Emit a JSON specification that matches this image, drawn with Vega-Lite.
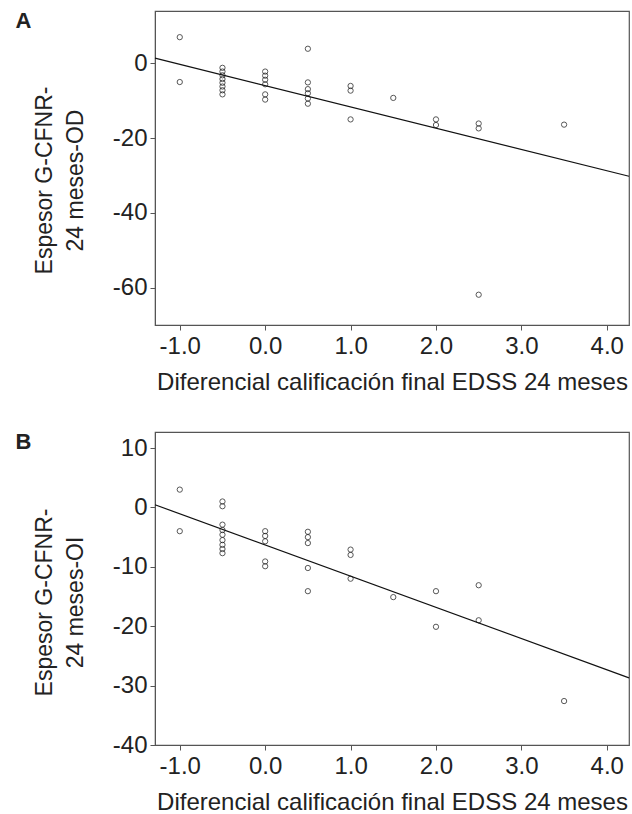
{
  "$schema": "https://vega.github.io/schema/vega-lite/v6.json",
  "padding": {"left": 14, "top": 9, "right": 2, "bottom": 2},
  "background": "white",
  "spacing": 35,
  "config": {
    "font": "Liberation Sans",
    "view": {"stroke": "#555555", "strokeWidth": 1.2},
    "axis": {
      "grid": false,
      "domainColor": "#555555",
      "tickColor": "#555555",
      "tickSize": 5,
      "labelFont": "Liberation Sans",
      "labelFontSize": 24,
      "labelColor": "#222222",
      "titleFont": "Liberation Sans",
      "titleFontSize": 23,
      "titleFontWeight": "normal",
      "titleColor": "#222222"
    },
    "axisX": {"labelPadding": 4, "titlePadding": 12, "titleFontSize": 24, "labelFlush": false, "labelOverlap": false},
    "axisY": {"labelPadding": 3, "titlePadding": 25, "titleLineHeight": 31}
  },
  "vconcat": [
    {
      "width": 474,
      "height": 314,
      "title": {"text": "A", "orient": "left", "anchor": "end", "angle": 0, "align": "right", "baseline": "top", "fontSize": 22, "fontWeight": "bold", "offset": -14, "color": "#222222"},
      "layer": [
        {
          "data": {"values": [
            {"x": -1, "y": 7.0}, {"x": -1, "y": -5.0},
            {"x": -0.5, "y": -1.2}, {"x": -0.5, "y": -2.2}, {"x": -0.5, "y": -3.2}, {"x": -0.5, "y": -4.2}, {"x": -0.5, "y": -5.2}, {"x": -0.5, "y": -6.2}, {"x": -0.5, "y": -7.2}, {"x": -0.5, "y": -8.3},
            {"x": 0, "y": -2.2}, {"x": 0, "y": -3.3}, {"x": 0, "y": -4.4}, {"x": 0, "y": -5.6}, {"x": 0, "y": -8.3}, {"x": 0, "y": -9.7},
            {"x": 0.5, "y": 3.9}, {"x": 0.5, "y": -5.1}, {"x": 0.5, "y": -6.9}, {"x": 0.5, "y": -8.0}, {"x": 0.5, "y": -9.4}, {"x": 0.5, "y": -10.8},
            {"x": 1, "y": -6.05}, {"x": 1, "y": -7.3}, {"x": 1, "y": -15.0},
            {"x": 1.5, "y": -9.25},
            {"x": 2, "y": -15.0}, {"x": 2, "y": -16.5},
            {"x": 2.5, "y": -16.1}, {"x": 2.5, "y": -17.4}, {"x": 2.5, "y": -61.9},
            {"x": 3.5, "y": -16.4}
          ]},
          "mark": {"type": "point", "shape": "circle", "filled": false, "color": "#111111", "size": 28, "strokeWidth": 1},
          "encoding": {
            "x": {"field": "x", "type": "quantitative", "scale": {"domain": [-1.29, 4.26], "nice": false, "zero": false},
              "axis": {"values": [-1, 0, 1, 2, 3, 4], "labelExpr": "replace(format(datum.value, '.1f'), '\u2212', '-')", "title": "Diferencial calificación final EDSS 24 meses"}},
            "y": {"field": "y", "type": "quantitative", "scale": {"domain": [-70, 14], "nice": false, "zero": false},
              "axis": {"values": [0, -20, -40, -60], "labelExpr": "replace(format(datum.value, 'd'), '\u2212', '-')", "title": ["Espesor G-CFNR-", "24 meses-OD"], "titleY": 169}}
          }
        },
        {
          "data": {"values": [{"x": -1.29, "y": 1.4}, {"x": 4.26, "y": -30.2}]},
          "mark": {"type": "line", "color": "#111111", "strokeWidth": 1.2},
          "encoding": {
            "x": {"field": "x", "type": "quantitative"},
            "y": {"field": "y", "type": "quantitative"}
          }
        }
      ]
    },
    {
      "width": 474,
      "height": 313,
      "title": {"text": "B", "orient": "left", "anchor": "end", "angle": 0, "align": "right", "baseline": "top", "fontSize": 22, "fontWeight": "bold", "offset": -14, "color": "#222222"},
      "layer": [
        {
          "data": {"values": [
            {"x": -1, "y": 3.0}, {"x": -1, "y": -4.0},
            {"x": -0.5, "y": 1.0}, {"x": -0.5, "y": 0.2}, {"x": -0.5, "y": -2.9}, {"x": -0.5, "y": -3.8}, {"x": -0.5, "y": -4.6}, {"x": -0.5, "y": -5.5}, {"x": -0.5, "y": -6.3}, {"x": -0.5, "y": -7.0}, {"x": -0.5, "y": -7.7},
            {"x": 0, "y": -4.0}, {"x": 0, "y": -4.8}, {"x": 0, "y": -5.7}, {"x": 0, "y": -9.1}, {"x": 0, "y": -9.9},
            {"x": 0.5, "y": -4.1}, {"x": 0.5, "y": -5.0}, {"x": 0.5, "y": -6.0}, {"x": 0.5, "y": -10.2}, {"x": 0.5, "y": -14.1},
            {"x": 1, "y": -7.1}, {"x": 1, "y": -8.0}, {"x": 1, "y": -12.0},
            {"x": 1.5, "y": -15.1},
            {"x": 2, "y": -14.1}, {"x": 2, "y": -20.1},
            {"x": 2.5, "y": -13.1}, {"x": 2.5, "y": -19.0},
            {"x": 3.5, "y": -32.6}
          ]},
          "mark": {"type": "point", "shape": "circle", "filled": false, "color": "#111111", "size": 28, "strokeWidth": 1},
          "encoding": {
            "x": {"field": "x", "type": "quantitative", "scale": {"domain": [-1.29, 4.26], "nice": false, "zero": false},
              "axis": {"values": [-1, 0, 1, 2, 3, 4], "labelExpr": "replace(format(datum.value, '.1f'), '\u2212', '-')", "title": "Diferencial calificación final EDSS 24 meses"}},
            "y": {"field": "y", "type": "quantitative", "scale": {"domain": [-40, 12.7], "nice": false, "zero": false},
              "axis": {"values": [10, 0, -10, -20, -30, -40], "labelExpr": "replace(format(datum.value, 'd'), '\u2212', '-')", "title": ["Espesor G-CFNR-", "24 meses-OI"], "titleY": 170}}
          }
        },
        {
          "data": {"values": [{"x": -1.29, "y": 0.45}, {"x": 4.26, "y": -28.7}]},
          "mark": {"type": "line", "color": "#111111", "strokeWidth": 1.2},
          "encoding": {
            "x": {"field": "x", "type": "quantitative"},
            "y": {"field": "y", "type": "quantitative"}
          }
        }
      ]
    }
  ]
}
